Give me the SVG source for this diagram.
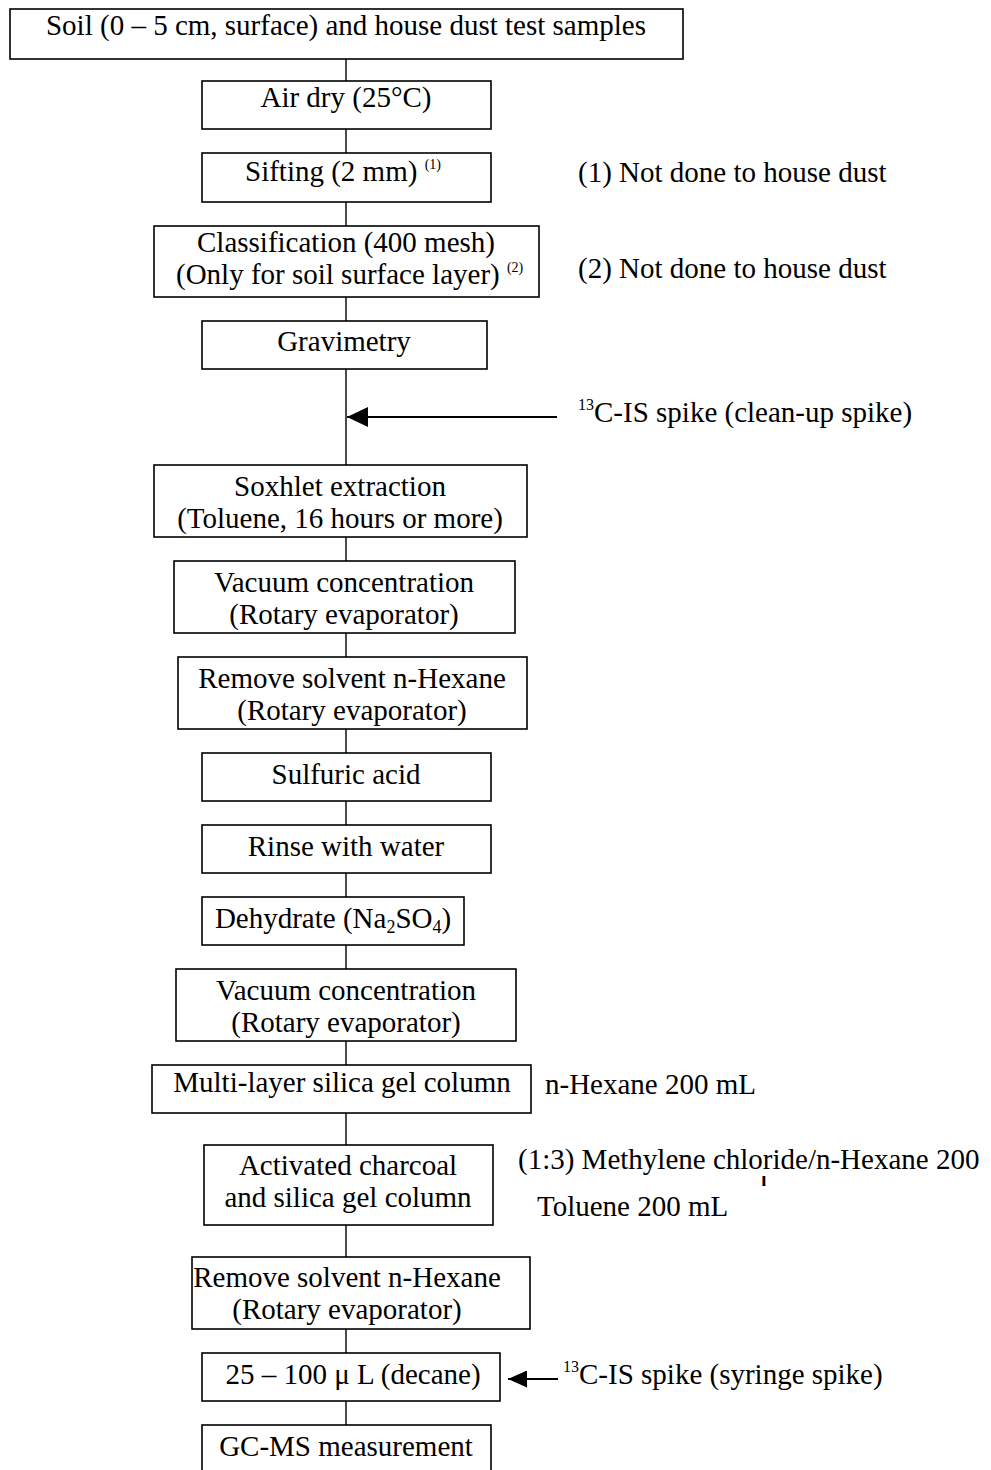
<svg xmlns="http://www.w3.org/2000/svg" width="991" height="1470" viewBox="0 0 991 1470">
<style>
.b{fill:#fff;stroke:#000;stroke-width:1.6}
.t{font-family:"Liberation Serif","Times New Roman",serif;font-size:29px;fill:#000}
.m{text-anchor:middle}
.c{stroke:#000;stroke-width:1.4;fill:none}
.a{stroke:#000;stroke-width:2;fill:none}
</style>
<defs>
<marker id="ah" markerWidth="21" markerHeight="20" refX="21" refY="10" orient="auto" markerUnits="userSpaceOnUse">
<path d="M0,0 L21,10 L0,20 Z" fill="#000"/>
</marker>
<marker id="ah2" markerWidth="19" markerHeight="17" refX="19" refY="8.5" orient="auto" markerUnits="userSpaceOnUse">
<path d="M0,0 L19,8.5 L0,17 Z" fill="#000"/>
</marker>
<clipPath id="cl"><rect x="750" y="1176" width="30" height="10"/></clipPath>
</defs>
<rect width="991" height="1470" fill="#fff"/>
<g id="connectors">
<line class="c" x1="346" y1="59" x2="346" y2="81"/>
<line class="c" x1="346" y1="129" x2="346" y2="153"/>
<line class="c" x1="346" y1="202" x2="346" y2="226"/>
<line class="c" x1="346" y1="297" x2="346" y2="321"/>
<line class="c" x1="346" y1="369" x2="346" y2="465"/>
<line class="c" x1="346" y1="537" x2="346" y2="561"/>
<line class="c" x1="346" y1="633" x2="346" y2="657"/>
<line class="c" x1="346" y1="729" x2="346" y2="753"/>
<line class="c" x1="346" y1="801" x2="346" y2="825"/>
<line class="c" x1="346" y1="873" x2="346" y2="897"/>
<line class="c" x1="346" y1="945" x2="346" y2="969"/>
<line class="c" x1="346" y1="1041" x2="346" y2="1065"/>
<line class="c" x1="346" y1="1113" x2="346" y2="1145"/>
<line class="c" x1="346" y1="1225" x2="346" y2="1257"/>
<line class="c" x1="346" y1="1329" x2="346" y2="1353"/>
<line class="c" x1="346" y1="1401" x2="346" y2="1425"/>
<line class="a" x1="557" y1="417" x2="347" y2="417" marker-end="url(#ah)"/>
<line class="a" x1="558" y1="1379" x2="508" y2="1379" marker-end="url(#ah2)"/>
</g>
<g id="n1"><rect class="b" x="10" y="9" width="673" height="50"/><text class="t m" x="346" y="35">Soil (0 – 5 cm, surface) and house dust test samples</text></g>
<g id="n2"><rect class="b" x="202" y="81" width="289" height="48"/><text class="t m" x="346" y="107">Air dry (25°C)</text></g>
<g id="n3"><rect class="b" x="202" y="153" width="289" height="49"/><text class="t" x="245" y="181">Sifting (2 mm) <tspan font-size="14" dy="-12">(1)</tspan></text></g>
<g id="n4"><rect class="b" x="154" y="226" width="385" height="71"/><text class="t m" x="346" y="252">Classification (400 mesh)</text><text class="t" x="176" y="284">(Only for soil surface layer) <tspan font-size="14" dy="-12">(2)</tspan></text></g>
<g id="n5"><rect class="b" x="202" y="321" width="285" height="48"/><text class="t m" x="344" y="351">Gravimetry</text></g>
<g id="n6"><rect class="b" x="154" y="465" width="373" height="72"/><text class="t m" x="340" y="496">Soxhlet extraction</text><text class="t m" x="340" y="528">(Toluene, 16 hours or more)</text></g>
<g id="n7"><rect class="b" x="174" y="561" width="341" height="72"/><text class="t m" x="344" y="592">Vacuum concentration</text><text class="t m" x="344" y="624">(Rotary evaporator)</text></g>
<g id="n8"><rect class="b" x="178" y="657" width="349" height="72"/><text class="t m" x="352" y="688">Remove solvent n-Hexane</text><text class="t m" x="352" y="720">(Rotary evaporator)</text></g>
<g id="n9"><rect class="b" x="202" y="753" width="289" height="48"/><text class="t m" x="346" y="784">Sulfuric acid</text></g>
<g id="n10"><rect class="b" x="202" y="825" width="289" height="48"/><text class="t m" x="346" y="856">Rinse with water</text></g>
<g id="n11"><rect class="b" x="202" y="897" width="262" height="48"/><text class="t m" x="333" y="928">Dehydrate (Na<tspan font-size="18" dy="5">2</tspan><tspan dy="-5">SO</tspan><tspan font-size="18" dy="5">4</tspan><tspan dy="-5">)</tspan></text></g>
<g id="n12"><rect class="b" x="176" y="969" width="340" height="72"/><text class="t m" x="346" y="1000">Vacuum concentration</text><text class="t m" x="346" y="1032">(Rotary evaporator)</text></g>
<g id="n13"><rect class="b" x="152" y="1065" width="379" height="48"/><text class="t m" x="342" y="1092">Multi-layer silica gel column</text></g>
<g id="n14"><rect class="b" x="204" y="1145" width="289" height="80"/><text class="t m" x="348" y="1175">Activated charcoal</text><text class="t m" x="348" y="1207">and silica gel column</text></g>
<g id="n15"><rect class="b" x="192" y="1257" width="338" height="72"/><text class="t m" x="347" y="1287">Remove solvent n-Hexane</text><text class="t m" x="347" y="1319">(Rotary evaporator)</text></g>
<g id="n16"><rect class="b" x="202" y="1353" width="298" height="48"/><text class="t m" x="353" y="1384">25 – 100 μ L (decane)</text></g>
<g id="n17"><rect class="b" x="202" y="1425" width="289" height="60"/><text class="t m" x="346" y="1456">GC-MS measurement</text></g>
<g id="labels">
<text class="t" x="578" y="182">(1) Not done to house dust</text>
<text class="t" x="578" y="278">(2) Not done to house dust</text>
<text class="t" x="578" y="422"><tspan font-size="16" dy="-12">13</tspan><tspan dy="12">C-IS spike (clean-up spike)</tspan></text>
<text class="t" x="545" y="1094">n-Hexane 200 mL</text>
<text class="t" x="518" y="1169">(1:3) Methylene chloride/n-Hexane 200</text>
<text class="t" x="759" y="1187" font-size="13" clip-path="url(#cl)">I</text>
<text class="t" x="537" y="1216">Toluene 200 mL</text>
<text class="t" x="563" y="1384"><tspan font-size="16" dy="-12">13</tspan><tspan dy="12">C-IS spike (syringe spike)</tspan></text>
</g>
</svg>
